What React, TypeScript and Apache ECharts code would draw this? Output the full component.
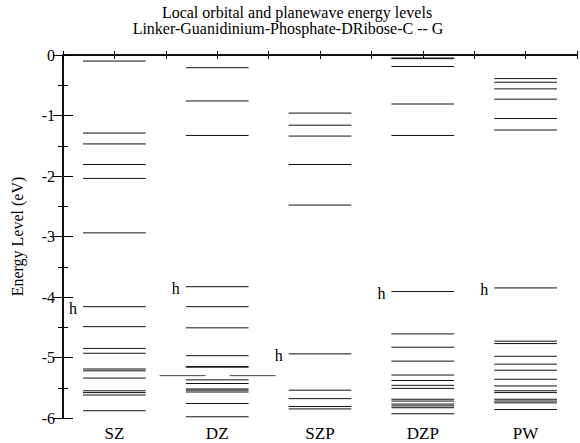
import React, { useEffect, useRef } from "react";
import * as echarts from "echarts";

const categories = ["SZ", "DZ", "SZP", "DZP", "PW"];
const yTicks = ["0", "-1", "-2", "-3", "-4", "-5", "-6"];

const levelsSZ = [-0.10, -1.29, -1.47, -1.81, -2.04, -2.94, -4.16, -4.49, -4.85, -4.93, -5.19, -5.22, -5.34, -5.55, -5.58, -5.62, -5.88];
const levelsDZ = [-0.21, -0.76, -1.33, -3.83, -4.16, -4.51, -4.97, -5.15, -5.16, -5.37, -5.43, -5.52, -5.54, -5.57, -5.76, -5.98];
const levelsSZP = [-0.96, -1.16, -1.34, -1.81, -2.48, -4.94, -5.54, -5.68, -5.81, -5.85];
const levelsDZP = [-0.05, -0.06, -0.19, -0.81, -1.33, -3.91, -4.61, -4.83, -5.06, -5.29, -5.38, -5.46, -5.51, -5.69, -5.72, -5.77, -5.80, -5.83, -5.93];
const levelsPW = [-0.39, -0.45, -0.56, -0.73, -1.05, -1.24, -3.85, -4.73, -4.77, -4.98, -5.11, -5.21, -5.36, -5.47, -5.55, -5.58, -5.69, -5.72, -5.75, -5.86];

const homoLevels = [-4.16, -3.83, -4.94, -3.91, -3.85];
const fermiLevel = -5.30;

const titleLine1 = "Local orbital and planewave energy levels";
const titleLine2 = "Linker-Guanidinium-Phosphate-DRibose-C -- G";

const FONT = "Liberation Serif";

export default function App() {
  const ref = useRef<HTMLDivElement>(null);

  useEffect(() => {
    if (!ref.current) return;
    const chart = echarts.init(ref.current, null, { renderer: "svg" });
    const all = [levelsSZ, levelsDZ, levelsSZP, levelsDZP, levelsPW];
    const levelData: number[][] = [];
    all.forEach((arr, i) => arr.forEach((e) => levelData.push([i + 0.5, e])));
    const homoData = homoLevels.map((e, i) => [i + 0.5, e]);

    const xAxisCommon = {
      type: "value" as const,
      min: 0,
      max: 5,
      interval: 0.5,
      splitLine: { show: false },
      axisLine: { show: true, lineStyle: { color: "#000", width: 1.5 } },
      axisTick: { show: true, inside: true, length: 4, lineStyle: { color: "#000" } },
    };
    const yAxisCommon = {
      type: "value" as const,
      min: -6,
      max: 0,
      interval: 1,
      splitLine: { show: false },
      axisLine: { show: true, lineStyle: { color: "#000", width: 1.5 } },
      axisTick: { show: true, inside: true, length: 10, lineStyle: { color: "#000" } },
      minorTick: { show: true, splitNumber: 2, length: 5, lineStyle: { color: "#000" } },
    };

    chart.setOption({
      animation: false,
      backgroundColor: "#fff",
      grid: { left: 63, right: 1, top: 55, bottom: 25 },
      graphic: [
        { type: "text", x: 297, y: 12.5, style: { text: titleLine1, fontFamily: FONT, fontSize: 16, fill: "#000", align: "center", verticalAlign: "middle" } },
        { type: "text", x: 288, y: 28.5, style: { text: titleLine2, fontFamily: FONT, fontSize: 16, fill: "#000", align: "center", verticalAlign: "middle" } },
      ],
      xAxis: [
        {
          ...xAxisCommon,
          position: "bottom",
          axisLabel: {
            show: true,
            fontFamily: FONT,
            fontSize: 17,
            color: "#000",
            margin: 7,
            formatter: (v: number) => {
              const k = v - 0.5;
              if (Math.abs(k - Math.round(k)) < 1e-6) return categories[Math.round(k)] ?? "";
              return "";
            },
          },
        },
        { ...xAxisCommon, position: "top", axisLabel: { show: false } },
      ],
      yAxis: [
        {
          ...yAxisCommon,
          position: "left",
          name: "Energy Level (eV)",
          nameLocation: "middle",
          nameGap: 38,
          nameTextStyle: { fontFamily: FONT, fontSize: 16, color: "#000" },
          axisLabel: {
            fontFamily: FONT,
            fontSize: 16,
            color: "#000",
            margin: 8,
            formatter: (v: number) => yTicks[Math.round(-v)] ?? "",
          },
        },
        { ...yAxisCommon, position: "right", axisLabel: { show: false } },
      ],
      series: [
        {
          type: "custom",
          xAxisIndex: 0,
          yAxisIndex: 0,
          data: levelData,
          renderItem: (params: any, api: any) => {
            const x = api.value(0);
            const e = api.value(1);
            const p0 = api.coord([x - 0.305, e]);
            const p1 = api.coord([x + 0.305, e]);
            return {
              type: "line",
              shape: { x1: p0[0], y1: p0[1], x2: p1[0], y2: p1[1] },
              style: { stroke: "#111", lineWidth: 1 },
            };
          },
        },
        {
          type: "custom",
          xAxisIndex: 0,
          yAxisIndex: 0,
          data: homoData,
          renderItem: (params: any, api: any) => {
            const x = api.value(0);
            const e = api.value(1);
            const p0 = api.coord([x - 0.305, e]);
            return {
              type: "text",
              x: p0[0] - 10,
              y: p0[1] + 2,
              style: { text: "h", fontFamily: FONT, fontSize: 16, fill: "#000", align: "center", verticalAlign: "middle" },
            };
          },
        },
        {
          type: "custom",
          xAxisIndex: 0,
          yAxisIndex: 0,
          data: [[1.5, fermiLevel]],
          renderItem: (params: any, api: any) => {
            const x = api.value(0);
            const e = api.value(1);
            const p0 = api.coord([x - 0.56, e]);
            const p1 = api.coord([x + 0.574, e]);
            return {
              type: "line",
              shape: { x1: p0[0], y1: p0[1], x2: p1[0], y2: p1[1] },
              style: { stroke: "#444", lineWidth: 1, lineDash: [46, 24] },
            };
          },
        },
      ],
    });
    return () => chart.dispose();
  }, []);

  return (
    <div
      ref={ref}
      style={{ position: "fixed", left: 0, top: 0, width: 580, height: 443, background: "#fff" }}
    />
  );
}
